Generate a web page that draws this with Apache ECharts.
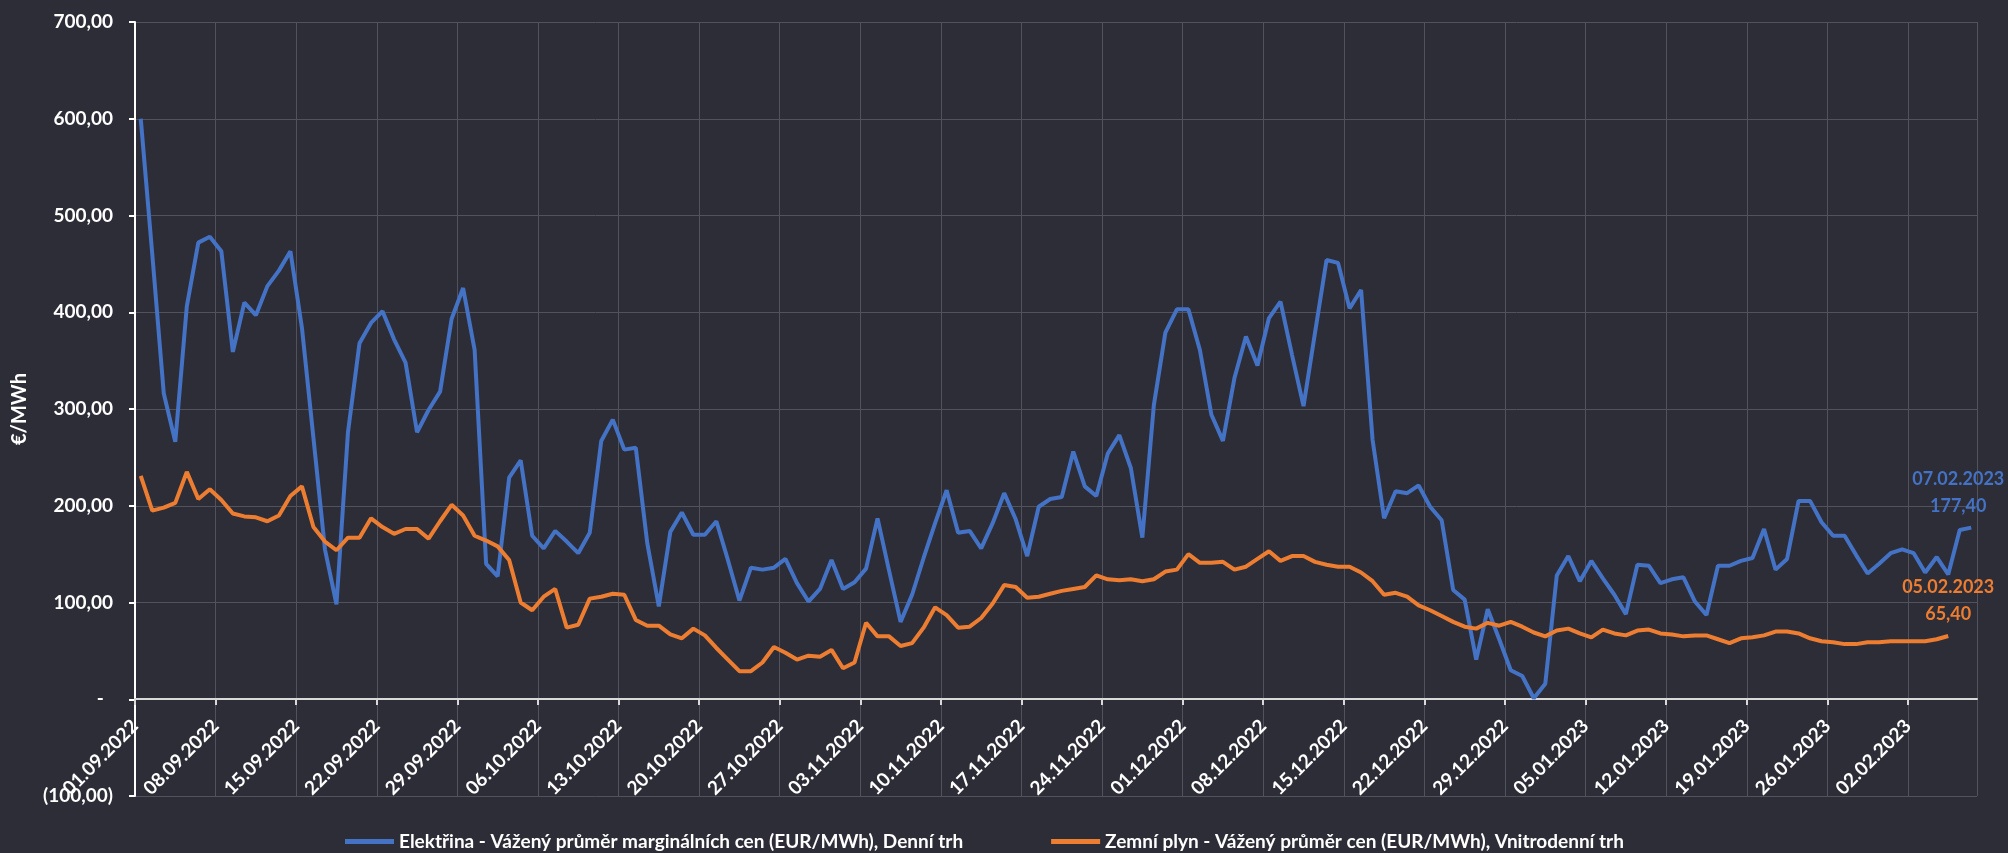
<!DOCTYPE html>
<html>
<head>
<meta charset="utf-8">
<script src="https://cdn.jsdelivr.net/npm/echarts@6/dist/echarts.min.js"></script>
<style>
  html, body { margin: 0; padding: 0; background: #2d2d38; }
  #chart { width: 2008px; height: 853px; }
</style>
</head>
<body>
<div id="chart"></div>
<script>
// denní hodnoty od 01.09.2022 (index 0) do 07.02.2023
const elektrina = [
  600, 460, 316, 266, 406, 472, 478, 463, 359, 410, 397, 427, 443, 463, 384, 270, 155, 98, 276, 368,
  389, 401, 372, 348, 276, 299, 318, 393, 425, 361, 140, 127, 229, 247, 169, 156, 174, 163, 151, 172,
  267, 289, 258, 260, 161, 96, 173, 193, 170, 170, 184, 144, 102, 136, 134, 136, 145, 120, 101, 114,
  144, 114, 121, 135, 187, 133, 80, 108, 146, 182, 216, 172, 174, 156, 182, 213, 186, 148, 199, 207,
  209, 256, 220, 210, 254, 273, 239, 167, 304, 379, 403, 403, 361, 294, 267, 332, 375, 345, 394, 411,
  356, 303, 379, 454, 451, 404, 423, 268, 187, 215, 213, 221, 199, 185, 113, 103, 41, 93, 62, 30,
  24, 1, 16, 128, 148, 122, 143, 125, 108, 88, 139, 138, 120, 124, 126, 101, 87, 138, 138, 143,
  146, 176, 134, 145, 205, 205, 183, 169, 169, 149, 130, 140, 151, 155, 151, 131, 147, 129, 175, 177.4
]

// zemní plyn končí 05.02.2023
const plyn = [
  231, 195, 198, 203, 235, 207, 217, 206, 192, 189, 188, 184, 190, 210, 220, 178, 163, 154, 167, 167,
  187, 178, 171, 176, 176, 166, 184, 201, 190, 169, 164, 158, 144, 100, 92, 106, 114, 74, 77, 104,
  106, 109, 108, 82, 76, 76, 67, 63, 73, 66, 53, 41, 29, 29, 38, 54, 48, 41, 45, 44,
  51, 32, 38, 79, 65, 65, 55, 58, 74, 95, 87, 74, 75, 84, 99, 118, 116, 105, 106, 109,
  112, 114, 116, 128, 124, 123, 124, 122, 124, 132, 134, 150, 141, 141, 142, 134, 137, 145, 153, 143,
  148, 148, 142, 139, 137, 137, 131, 122, 108, 110, 106, 97, 92, 86, 80, 75, 73, 79, 76, 80,
  75, 69, 65, 71, 73, 68, 64, 72, 68, 66, 71, 72, 68, 67, 65, 66, 66, 62, 58, 63,
  64, 66, 70, 70, 68, 63, 60, 59, 57, 57, 59, 59, 60, 60, 60, 60, 62, 65.4
]

// popisky osy x po 7 dnech
const tickLabels = [
  '01.09.2022', '08.09.2022', '15.09.2022', '22.09.2022', '29.09.2022', '06.10.2022',
  '13.10.2022', '20.10.2022', '27.10.2022', '03.11.2022', '10.11.2022', '17.11.2022',
  '24.11.2022', '01.12.2022', '08.12.2022', '15.12.2022', '22.12.2022', '29.12.2022',
  '05.01.2023', '12.01.2023', '19.01.2023', '26.01.2023', '02.02.2023'
]

const seriesNames = [
  'Elektřina - Vážený průměr marginálních cen (EUR/MWh), Denní trh',
  'Zemní plyn - Vážený průměr cen (EUR/MWh), Vnitrodenní trh'
]
const endLabels = [
  ['07.02.2023', '177,40'],
  ['05.02.2023', '65,40']
]
const colors = ['#4472c4', '#ed7d31']

const FONT = 'Lato'
const gridColor = '#52525c'

function fmtCzk(v) {
  if (v === 0) return '-  '
  const s = Math.abs(v).toFixed(2).replace('.', ',')
  return v < 0 ? '(' + s + ')' : s
}

// body leží uprostřed dne (den i => i + 0.5)
function buildData(values, label, color, dx) {
  return values.map((v, i) => {
    const item = { value: [i + 0.5, v] }
    if (i === values.length - 1) {
      item.label = {
        show: true,
        position: 'top',
        distance: 8,
        offset: [dx, 0],
        formatter: label.join('\n'),
        color: color,
        fontFamily: FONT,
        fontWeight: 'bold',
        fontSize: 18,
        lineHeight: 27,
        align: 'center'
      }
    }
    return item
  })
}

const chart = echarts.init(document.getElementById('chart'))

chart.setOption({
  backgroundColor: '#2d2d38',
  animation: false,
  grid: { left: 135, right: 31, top: 22, bottom: 57 },
  legend: {
    left: 340,
    top: 827,
    itemGap: 88,
    itemWidth: 49,
    itemHeight: 5,
    icon: 'rect',
    textStyle: { color: '#fff', fontFamily: FONT, fontWeight: 'bold', fontSize: 19 },
    data: seriesNames
  },
  xAxis: {
    type: 'value',
    min: 0,
    max: 160,
    interval: 7,
    position: 'bottom',
    offset: -97, // osa x leží na nule
    axisLine: { onZero: false, lineStyle: { color: '#d9d9d9', width: 2 } },
    axisTick: { show: true, length: 6, lineStyle: { color: '#d9d9d9', width: 2 } },
    axisLabel: {
      rotate: 45,
      margin: 24,
      color: '#fff',
      fontFamily: FONT,
      fontWeight: 'bold',
      fontSize: 19,
      showMaxLabel: false,
      formatter: v => tickLabels[v / 7] || ''
    },
    splitLine: { show: true, lineStyle: { color: gridColor, width: 1 } }
  },
  yAxis: {
    type: 'value',
    min: -100,
    max: 700,
    interval: 100,
    name: '€/MWh',
    nameLocation: 'middle',
    nameGap: 105,
    nameTextStyle: { color: '#fff', fontFamily: FONT, fontWeight: 'bold', fontSize: 20 },
    axisLine: { show: true, lineStyle: { color: '#fff', width: 2 } },
    axisTick: { show: true, length: 6, lineStyle: { color: '#fff', width: 2 } },
    axisLabel: {
      margin: 22,
      color: '#fff',
      fontFamily: FONT,
      fontWeight: 'bold',
      fontSize: 19,
      formatter: fmtCzk
    },
    splitLine: { show: true, lineStyle: { color: gridColor, width: 1 } }
  },
  series: [
    {
      name: seriesNames[0],
      type: 'line',
      data: buildData(elektrina, endLabels[0], colors[0], -13),
      symbol: 'circle',
      symbolSize: 0,
      showSymbol: true,
      itemStyle: { color: colors[0] },
      lineStyle: { color: colors[0], width: 4 },
      emphasis: { disabled: true }
    },
    {
      name: seriesNames[1],
      type: 'line',
      data: buildData(plyn, endLabels[1], colors[1], 0),
      symbol: 'circle',
      symbolSize: 0,
      showSymbol: true,
      itemStyle: { color: colors[1] },
      lineStyle: { color: colors[1], width: 4 },
      emphasis: { disabled: true }
    }
  ]
})
</script>
</body>
</html>
